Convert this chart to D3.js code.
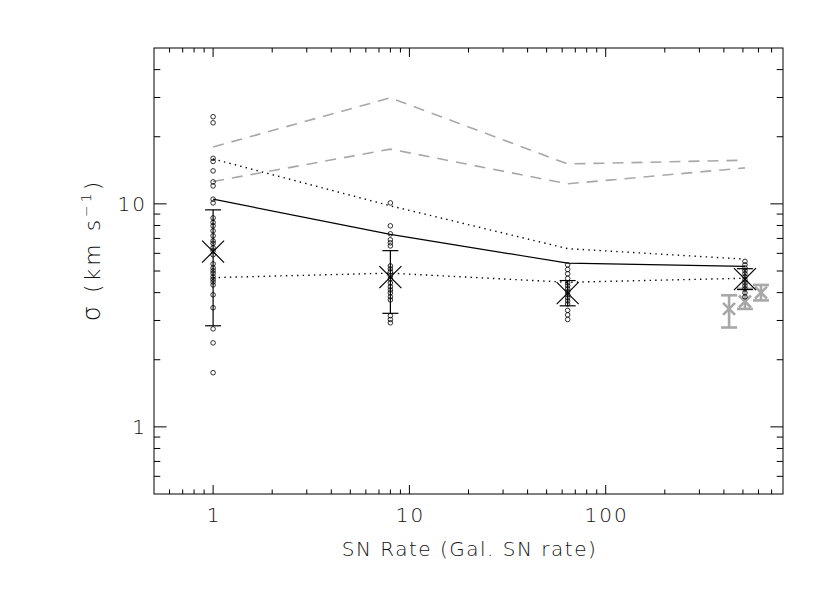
<!DOCTYPE html>
<html>
<head>
<meta charset="utf-8">
<script src="https://cdn.jsdelivr.net/npm/d3@7"></script>
<style>
  html, body { margin: 0; padding: 0; background: #fff; }
  text { font-family: "DejaVu Sans", sans-serif; font-weight: 300; fill: #111; }
</style>
</head>
<body>
<svg id="chart" width="830" height="593"></svg>
<script>
// ---- data ----
const xCats = [1, 8, 64, 512];
const solidLine   = [10.5, 7.3, 5.42, 5.24];
const dottedUpper = [15.9, 9.8, 6.3, 5.65];
const dottedLower = [4.67, 4.89, 4.45, 4.64];
const dashedUpper = [18.0, 29.9, 15.1, 15.7];
const dashedLower = [12.6, 17.6, 12.3, 14.5];
const meanVals = [6.11, 4.69, 3.98, 4.6];
const errHigh  = [9.4, 6.17, 4.53, 5.12];
const errLow   = [2.84, 3.23, 3.49, 4.13];
const pts1   = [24.6, 23.1, 16.0, 15.5, 14.06, 12.55, 12.04, 10.5, 10.1, 8.65, 8.26, 7.97, 7.57, 7.19, 6.82, 6.65, 6.35, 6.16, 5.91, 5.38, 5.16, 5.01, 4.88, 4.71, 4.59, 4.47, 4.33, 3.91, 3.42, 2.75, 2.38, 1.75];
const pts8   = [10.1, 7.97, 7.34, 6.9, 6.69, 6.48, 5.27, 5.11, 4.96, 4.76, 4.61, 4.42, 4.25, 4.11, 3.99, 3.83, 3.71, 3.15, 3.03, 2.93];
const pts64  = [5.33, 5.08, 4.86, 4.63, 4.42, 4.29, 4.16, 4.03, 3.91, 3.79, 3.67, 3.56, 3.33, 3.18, 3.03];
const pts512 = [5.52, 5.33, 5.16, 5.01, 4.86, 4.71, 4.56, 4.42, 4.29, 4.16, 3.99, 3.83];
const grayX    = [425, 512, 618];
const grayVals = [3.38, 3.65, 4.0];
const grayHigh = [3.89, 4.16, 4.33];
const grayLow  = [2.79, 3.38, 3.69];
const xTickLabels = [1, 10, 100];
const yTickLabels = [1, 10];
const xTitle = "SN Rate (Gal. SN rate)";

// ---- layout ----
const svg = d3.select("#chart");
const L = 154, R = 783, T = 48, B = 494;
const x = d3.scaleLog().domain([0.5, 800]).range([L, R]);
const y = d3.scaleLog().domain([0.5, 50]).range([B, T]);

svg.append("rect").attr("width", 830).attr("height", 593).attr("fill", "#fff");

// ---- axes (IDL-style box with ticks on all sides) ----
const xMajor = [1, 10, 100];
const xMinor = [];
[0.1, 1, 10, 100].forEach(d => { for (let k = 2; k <= 9; k++) { const v = d * k; if (v > 0.5 && v < 800) xMinor.push(v); } });
const yMajor = [1, 10];
const yMinor = [];
[0.1, 1, 10].forEach(d => { for (let k = 2; k <= 9; k++) { const v = d * k; if (v > 0.5 && v < 50) yMinor.push(v); } });

const axG = svg.append("g").attr("stroke", "#000").attr("stroke-width", 1).attr("fill", "none");
axG.append("rect").attr("x", L).attr("y", T).attr("width", R - L).attr("height", B - T);
const xt = xMajor.map(v => ({v, len: 9})).concat(xMinor.map(v => ({v, len: 4.5})));
xt.forEach(t => {
  axG.append("line").attr("x1", x(t.v)).attr("x2", x(t.v)).attr("y1", B).attr("y2", B - t.len);
  axG.append("line").attr("x1", x(t.v)).attr("x2", x(t.v)).attr("y1", T).attr("y2", T + t.len);
});
const yt = yMajor.map(v => ({v, len: 12.6})).concat(yMinor.map(v => ({v, len: 6.3})));
yt.forEach(t => {
  axG.append("line").attr("y1", y(t.v)).attr("y2", y(t.v)).attr("x1", L).attr("x2", L + t.len);
  axG.append("line").attr("y1", y(t.v)).attr("y2", y(t.v)).attr("x1", R).attr("x2", R - t.len);
});

// tick labels
svg.append("g").selectAll("text").data(xTickLabels).join("text")
  .attr("x", d => x(d) + 1).attr("y", 522).attr("text-anchor", "middle")
  .attr("font-size", 20).attr("letter-spacing", 2).text(d => d);
svg.append("g").selectAll("text").data(yTickLabels).join("text")
  .attr("x", 147).attr("y", d => y(d) + 7).attr("text-anchor", "end")
  .attr("font-size", 20).attr("letter-spacing", 2).text(d => d);

// axis titles
svg.append("text").attr("x", (L + R) / 2 + 1).attr("y", 556).attr("text-anchor", "middle")
  .attr("font-size", 20).attr("letter-spacing", 1.5).text(xTitle);
const yl = svg.append("text").attr("transform", "translate(100,250) rotate(-90)")
  .attr("text-anchor", "middle").attr("font-size", 22).attr("letter-spacing", 3);
yl.append("tspan").attr("font-size", 24).text("σ");
yl.append("tspan").text(" (km s");
yl.append("tspan").attr("dy", -9).attr("font-size", 14).text("−1");
yl.append("tspan").attr("dy", 9).text(")");

// ---- plot content ----
const plot = svg.append("g");
const lineGen = d3.line().x(d => x(d[0])).y(d => y(d[1]));
const zip = arr => xCats.map((c, i) => [c, arr[i]]);

plot.append("path").attr("d", lineGen(zip(dashedUpper))).attr("fill", "none")
  .attr("stroke", "#a8a8a8").attr("stroke-width", 1.6).attr("stroke-dasharray", "11,8");
plot.append("path").attr("d", lineGen(zip(dashedLower))).attr("fill", "none")
  .attr("stroke", "#a8a8a8").attr("stroke-width", 1.6).attr("stroke-dasharray", "11,8");
plot.append("path").attr("d", lineGen(zip(dottedUpper))).attr("fill", "none")
  .attr("stroke", "#000").attr("stroke-width", 1.4).attr("stroke-dasharray", "1.4,4.2");
plot.append("path").attr("d", lineGen(zip(dottedLower))).attr("fill", "none")
  .attr("stroke", "#000").attr("stroke-width", 1.4).attr("stroke-dasharray", "1.4,4.2");
plot.append("path").attr("d", lineGen(zip(solidLine))).attr("fill", "none")
  .attr("stroke", "#000").attr("stroke-width", 1.2);

// gray error bars + crosses
const gray = "#a8a8a8";
grayX.forEach((gx, i) => {
  const g = plot.append("g").attr("stroke", gray).attr("stroke-width", 2.6).attr("fill", "none");
  const cx = x(gx);
  g.append("line").attr("x1", cx).attr("x2", cx).attr("y1", y(grayHigh[i])).attr("y2", y(grayLow[i]));
  g.append("line").attr("x1", cx - 8).attr("x2", cx + 8).attr("y1", y(grayHigh[i])).attr("y2", y(grayHigh[i]));
  g.append("line").attr("x1", cx - 8).attr("x2", cx + 8).attr("y1", y(grayLow[i])).attr("y2", y(grayLow[i]));
  const cy = y(grayVals[i]), s = 6;
  g.append("line").attr("x1", cx - s).attr("x2", cx + s).attr("y1", cy - s).attr("y2", cy + s);
  g.append("line").attr("x1", cx - s).attr("x2", cx + s).attr("y1", cy + s).attr("y2", cy - s);
});

// individual points (small open circles)
const allPts = [pts1, pts8, pts64, pts512];
allPts.forEach((arr, i) => {
  plot.append("g").selectAll("circle").data(arr).join("circle")
    .attr("cx", x(xCats[i])).attr("cy", d => y(d)).attr("r", 2.3)
    .attr("fill", "none").attr("stroke", "#000").attr("stroke-width", 0.8);
});

// black error bars + big X
xCats.forEach((c, i) => {
  const g = plot.append("g").attr("stroke", "#000").attr("stroke-width", 1.2).attr("fill", "none");
  const cx = x(c);
  g.append("line").attr("x1", cx).attr("x2", cx).attr("y1", y(errHigh[i])).attr("y2", y(errLow[i]));
  g.append("line").attr("x1", cx - 8).attr("x2", cx + 8).attr("y1", y(errHigh[i])).attr("y2", y(errHigh[i]));
  g.append("line").attr("x1", cx - 8).attr("x2", cx + 8).attr("y1", y(errLow[i])).attr("y2", y(errLow[i]));
  const cy = y(meanVals[i]), s = 11;
  g.append("line").attr("x1", cx - s).attr("x2", cx + s).attr("y1", cy - s).attr("y2", cy + s);
  g.append("line").attr("x1", cx - s).attr("x2", cx + s).attr("y1", cy + s).attr("y2", cy - s);
});
</script>
</body>
</html>
